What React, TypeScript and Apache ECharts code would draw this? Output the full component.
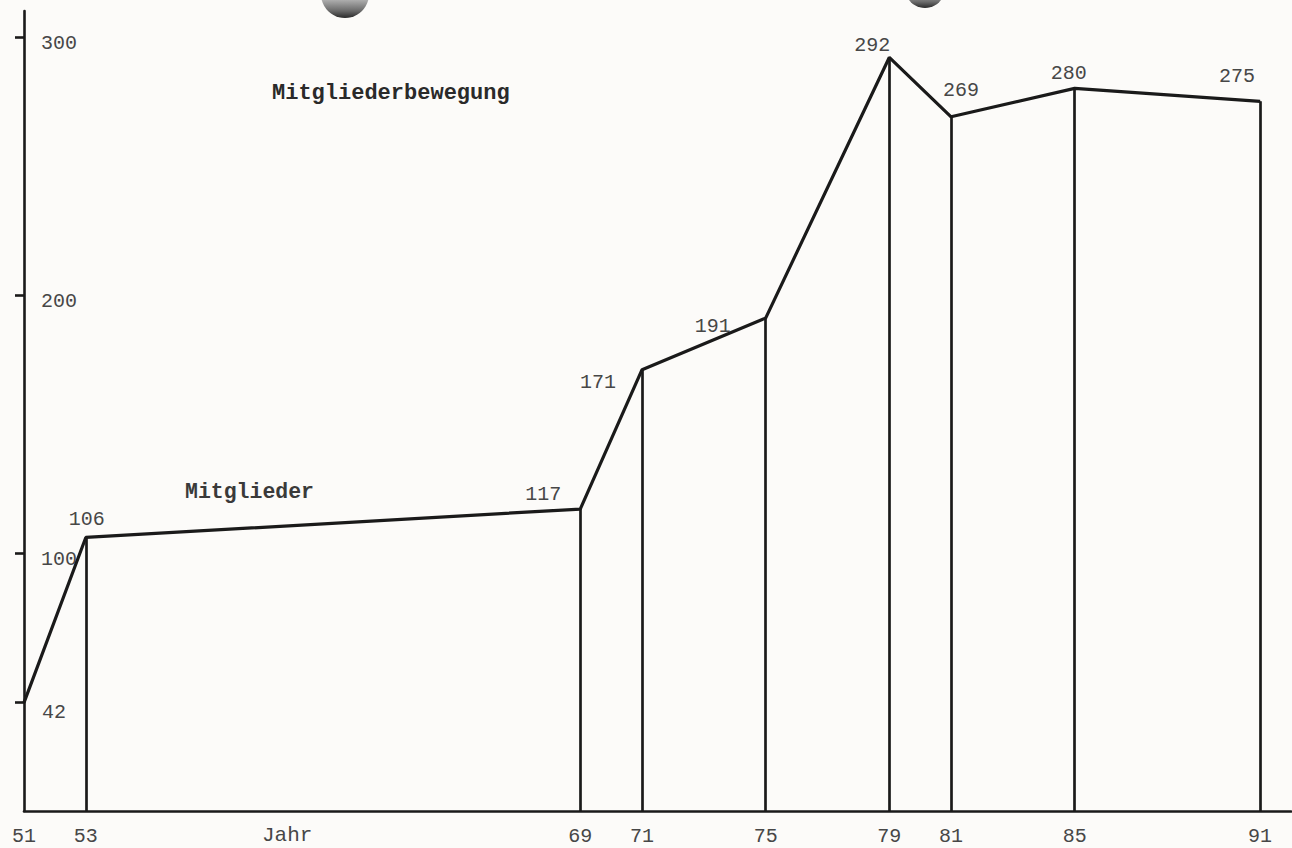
import React, { useEffect, useRef } from "react";
import * as echarts from "echarts";

const years = [51, 53, 69, 71, 75, 79, 81, 85, 91];
const members = [42, 106, 117, 171, 191, 292, 269, 280, 275];
const yTickLabels = [100, 200, 300];
const yTickMarks = [42, 100, 200, 300];
const labelOffsets = [
  [30, 10],
  [1, -18],
  [-37, -15],
  [-44, 13],
  [-53, 8],
  [-17, -12],
  [10, -26],
  [-6, -15],
  [-23, -25],
];

const FONT = "'Liberation Mono', 'DejaVu Sans Mono', monospace";
const INK = "#1a1a1a";
const TXT = "#474747";

export default function App() {
  const ref = useRef<HTMLDivElement>(null);
  useEffect(() => {
    if (!ref.current) return;
    const chart = echarts.init(ref.current, null, { renderer: "svg" });
    const lineData = years.map((y, i) => ({
      value: [y, members[i]],
      label: {
        show: true,
        position: "inside",
        offset: labelOffsets[i],
        formatter: String(members[i]),
      },
    }));
    const drops = years.slice(1).map((y, k) => [
      { coord: [y, 0] },
      { coord: [y, members[k + 1]] },
    ]);
    const mkHole = () =>
      new echarts.graphic.LinearGradient(0, 0, 0, 1, [
        { offset: 0, color: "#f2f2f2" },
        { offset: 0.55, color: "#c4c4c4" },
        { offset: 0.85, color: "#6a6a6a" },
        { offset: 1, color: "#2a2a2a" },
      ]);
    chart.setOption({
      animation: false,
      backgroundColor: "#fcfbf9",
      textStyle: { fontFamily: FONT },
      grid: {
        left: 24,
        right: 1,
        top: 11,
        bottom: 37,
        outerBoundsMode: "none",
      },
      xAxis: {
        type: "value",
        min: 51,
        max: 92,
        splitLine: { show: false },
        axisLine: { show: true, lineStyle: { color: INK, width: 2.6 } },
        axisTick: { show: false },
        axisLabel: {
          customValues: years,
          margin: 15,
          color: TXT,
          fontFamily: FONT,
          fontSize: 20,
        },
      },
      yAxis: {
        type: "value",
        min: 0,
        max: 310,
        splitLine: { show: false },
        axisLine: { show: true, lineStyle: { color: INK, width: 2.6 } },
        axisTick: {
          show: true,
          customValues: yTickMarks,
          inside: false,
          length: 9,
          lineStyle: { color: INK, width: 2.6 },
        },
        axisLabel: {
          customValues: yTickLabels,
          inside: true,
          margin: 17,
          color: TXT,
          fontFamily: FONT,
          fontSize: 20,
          verticalAlign: "top",
          lineHeight: 14,
        },
      },
      graphic: [
        {
          type: "circle",
          shape: { cx: 345, cy: -6, r: 24 },
          style: { fill: mkHole() },
        },
        {
          type: "circle",
          shape: { cx: 925, cy: -12, r: 20 },
          style: { fill: mkHole() },
        },
        {
          type: "text",
          left: 272,
          top: 82,
          style: {
            text: "Mitgliederbewegung",
            font: `bold 22px ${FONT}`,
            fill: "#2a2a2a",
          },
        },
        {
          type: "text",
          left: 185,
          top: 481,
          style: {
            text: "Mitglieder",
            font: `bold 21.5px ${FONT}`,
            fill: "#3a3a3a",
          },
        },
        {
          type: "text",
          left: 262,
          top: 825,
          style: {
            text: "Jahr",
            font: `21px ${FONT}`,
            fill: TXT,
          },
        },
      ],
      series: [
        {
          type: "line",
          data: lineData,
          symbol: "circle",
          symbolSize: 1,
          showSymbol: true,
          itemStyle: { color: INK },
          lineStyle: { color: INK, width: 3.2 },
          label: {
            color: TXT,
            fontFamily: FONT,
            fontSize: 20,
            align: "center",
            verticalAlign: "middle",
          },
          markLine: {
            silent: true,
            symbol: "none",
            label: { show: false },
            lineStyle: { color: INK, width: 2.7, type: "solid" },
            data: drops,
          },
          z: 3,
        },
      ],
    });
    return () => chart.dispose();
  }, []);
  return (
    <div
      ref={ref}
      style={{ position: "fixed", left: 0, top: 0, width: 1292, height: 848 }}
    />
  );
}
